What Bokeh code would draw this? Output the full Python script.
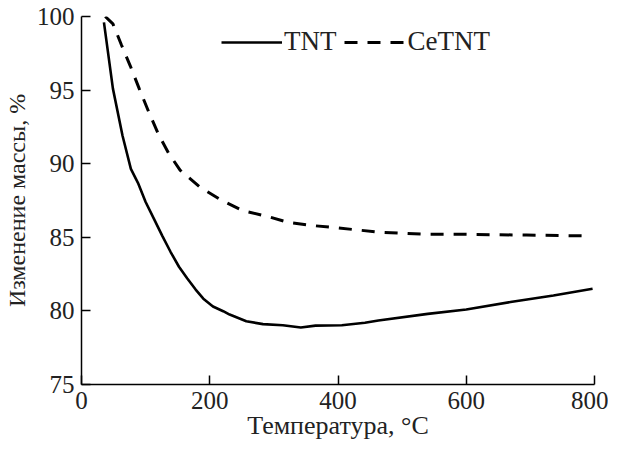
from bokeh.plotting import figure
from bokeh.models import Legend, LegendItem, FixedTicker, Range1d
from bokeh.embed import file_html
from bokeh.resources import INLINE

# --- data ---
tnt_temp = [35, 49, 64, 77, 88, 100, 113, 126, 139, 152, 165, 178, 190, 205, 221, 231,
            257, 283, 314, 342, 365, 406, 442, 463, 540, 600, 669, 736, 797]
tnt_mass = [99.6, 95.1, 91.9, 89.65, 88.7, 87.4, 86.25, 85.1, 84.0, 83.0, 82.2, 81.45,
            80.83, 80.3, 79.98, 79.75, 79.3, 79.1, 79.03, 78.87, 79.0, 79.03, 79.2, 79.35,
            79.8, 80.1, 80.6, 81.05, 81.5]

cetnt_temp = [37, 49, 62, 76, 90, 105, 120, 136, 154, 185, 219, 252, 288, 324, 360, 396,
              437, 463, 540, 600, 694, 782]
cetnt_mass = [100.0, 99.5, 98.1, 96.65, 95.1, 93.5, 92.0, 90.7, 89.55, 88.4, 87.5, 86.8,
              86.44, 86.0, 85.8, 85.65, 85.47, 85.35, 85.2, 85.2, 85.15, 85.1]

x_ticks = [0, 200, 400, 600, 800]
y_ticks = [75, 80, 85, 90, 95, 100]
series_names = ["TNT", "CeTNT"]
x_label = "Температура, °C"
y_label = "Изменение массы, %"

FONT = "Liberation Serif"

p = figure(width=608, height=442, output_backend="svg", toolbar_location=None,
           x_range=Range1d(0, 800), y_range=Range1d(75, 100),
           min_border_left=75, min_border_right=14, min_border_top=16, min_border_bottom=57)
p.outline_line_color = None
p.grid.visible = False
p.background_fill_color = "white"

r1 = p.line(tnt_temp, tnt_mass, line_color="black", line_width=2.6)
r2 = p.line(cetnt_temp, cetnt_mass, line_color="black", line_width=3, line_dash="13 10")

for ax in (p.xaxis[0], p.yaxis[0]):
    ax.axis_line_color = "black"
    ax.axis_line_width = 1.5
    ax.major_tick_line_color = "black"
    ax.major_tick_line_width = 1.5
    ax.major_tick_in = 9
    ax.major_tick_out = 0
    ax.minor_tick_line_color = None
    ax.major_label_text_font = FONT
    ax.major_label_text_font_size = "25px"
    ax.major_label_text_color = "#222222"
    ax.axis_label_text_font = FONT
    ax.axis_label_text_font_style = "normal"
    ax.axis_label_text_color = "#222222"

p.xaxis[0].axis_label_text_font_size = "26px"
p.yaxis[0].axis_label_text_font_size = "24px"
p.xaxis[0].ticker = FixedTicker(ticks=x_ticks)
p.yaxis[0].ticker = FixedTicker(ticks=y_ticks)
p.xaxis[0].axis_label = x_label
p.yaxis[0].axis_label = y_label
p.xaxis[0].major_label_standoff = 7
p.xaxis[0].axis_label_standoff = -1
p.yaxis[0].major_label_standoff = 7
p.yaxis[0].axis_label_standoff = 4

legend = Legend(items=[LegendItem(label=series_names[0], renderers=[r1]),
                       LegendItem(label=series_names[1], renderers=[r2])],
                orientation="horizontal", location=(140, 327),
                glyph_width=61, glyph_height=20, label_height=20, label_width=20,
                label_standoff=2, spacing=8, padding=0, margin=0,
                border_line_color=None, background_fill_alpha=0,
                label_text_font=FONT, label_text_font_size="27px",
                label_text_color="#222222")
p.add_layout(legend)

open("out.html", "w").write(file_html(p, INLINE))
